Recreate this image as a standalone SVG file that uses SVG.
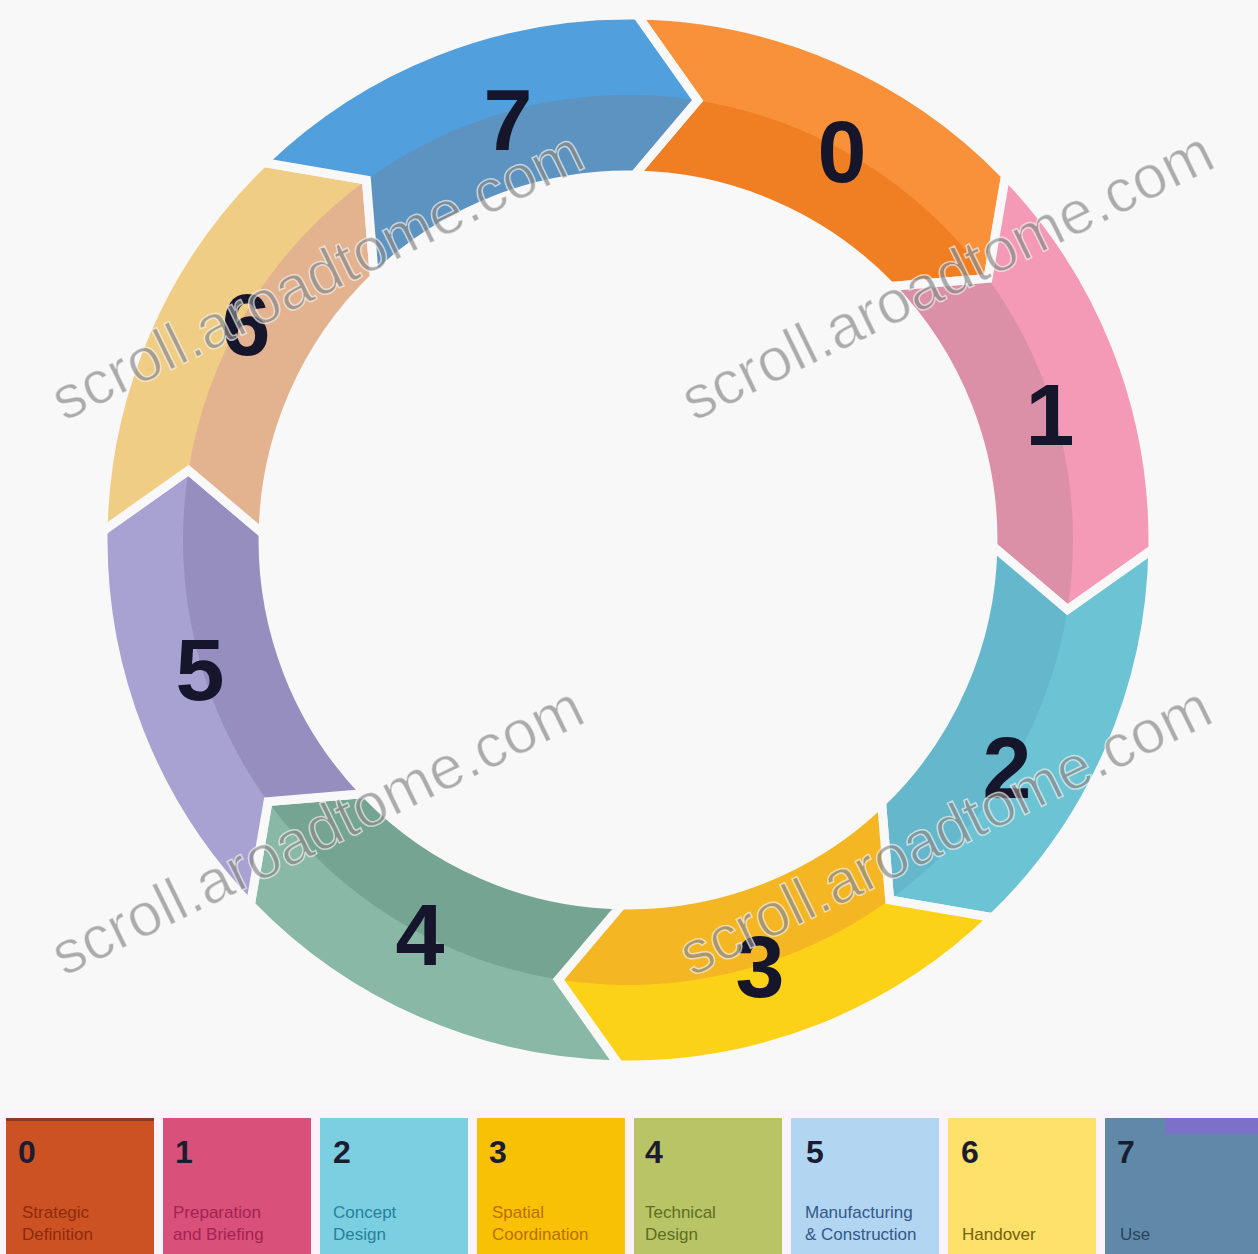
<svg xmlns="http://www.w3.org/2000/svg" width="1258" height="1254" viewBox="0 0 1258 1254">
<style>
.num{font-family:"Liberation Sans",Arial,sans-serif;font-weight:bold;font-size:88px;fill:#15152b;text-anchor:middle}
.edge{fill:none;stroke:#f8f8f8;stroke-width:9;stroke-linejoin:miter}
.wm{font-family:"Liberation Sans",Arial,sans-serif;font-size:61px;fill:#8a8a8a;fill-opacity:0.7;stroke:#ffffff;stroke-width:1.5;stroke-opacity:0.6}
.lnum{font-family:"Liberation Sans",Arial,sans-serif;font-weight:bold;font-size:32px;fill:#1c1c30}
.lab{font-family:"Liberation Sans",Arial,sans-serif;font-size:17px}
</style>
<rect width="1258" height="1254" fill="#f8f8f8"/>
<g id="ring">
<g id="stage-0">
<path fill="#ef7f22" d="M637.2,15.1 A525,525 0 0 1 1005.6,175.3 L988.0,278.4 L890.6,286.4 A365,365 0 0 0 634.4,175.1 L697.6,100.5 Z"/>
<path fill="#f9913a" d="M637.2,15.1 A525,525 0 0 1 1005.6,175.3 L988.0,278.4 A445,445 0 0 0 697.6,100.5 Z"/>
<path class="edge" d="M637.2,15.1 A525,525 0 0 1 1005.6,175.3 L988.0,278.4 L890.6,286.4 A365,365 0 0 0 634.4,175.1 L697.6,100.5 Z"/>
<text class="num" x="842" y="182">0</text>
</g>
<g id="stage-1">
<path fill="#dc90a8" d="M1005.6,175.3 A525,525 0 0 1 1152.9,549.2 L1067.5,609.6 L992.9,546.4 A365,365 0 0 0 890.6,286.4 L988.0,278.4 Z"/>
<path fill="#f59ab6" d="M1005.6,175.3 A525,525 0 0 1 1152.9,549.2 L1067.5,609.6 A445,445 0 0 0 988.0,278.4 Z"/>
<path class="edge" d="M1005.6,175.3 A525,525 0 0 1 1152.9,549.2 L1067.5,609.6 L992.9,546.4 A365,365 0 0 0 890.6,286.4 L988.0,278.4 Z"/>
<text class="num" x="1050" y="445">1</text>
</g>
<g id="stage-2">
<path fill="#65b8cb" d="M1152.9,549.2 A525,525 0 0 1 992.7,917.6 L889.6,900.0 L881.6,802.6 A365,365 0 0 0 992.9,546.4 L1067.5,609.6 Z"/>
<path fill="#6cc3d3" d="M1152.9,549.2 A525,525 0 0 1 992.7,917.6 L889.6,900.0 A445,445 0 0 0 1067.5,609.6 Z"/>
<path class="edge" d="M1152.9,549.2 A525,525 0 0 1 992.7,917.6 L889.6,900.0 L881.6,802.6 A365,365 0 0 0 992.9,546.4 L1067.5,609.6 Z"/>
<text class="num" x="1007" y="798">2</text>
</g>
<g id="stage-3">
<path fill="#f5b623" d="M992.7,917.6 A525,525 0 0 1 618.8,1064.9 L558.4,979.5 L621.6,904.9 A365,365 0 0 0 881.6,802.6 L889.6,900.0 Z"/>
<path fill="#fcd218" d="M992.7,917.6 A525,525 0 0 1 618.8,1064.9 L558.4,979.5 A445,445 0 0 0 889.6,900.0 Z"/>
<path class="edge" d="M992.7,917.6 A525,525 0 0 1 618.8,1064.9 L558.4,979.5 L621.6,904.9 A365,365 0 0 0 881.6,802.6 L889.6,900.0 Z"/>
<text class="num" x="760" y="997">3</text>
</g>
<g id="stage-4">
<path fill="#76a492" d="M618.8,1064.9 A525,525 0 0 1 250.4,904.7 L268.0,801.6 L365.4,793.6 A365,365 0 0 0 621.6,904.9 L558.4,979.5 Z"/>
<path fill="#89b8a6" d="M618.8,1064.9 A525,525 0 0 1 250.4,904.7 L268.0,801.6 A445,445 0 0 0 558.4,979.5 Z"/>
<path class="edge" d="M618.8,1064.9 A525,525 0 0 1 250.4,904.7 L268.0,801.6 L365.4,793.6 A365,365 0 0 0 621.6,904.9 L558.4,979.5 Z"/>
<text class="num" x="420" y="965">4</text>
</g>
<g id="stage-5">
<path fill="#958ebf" d="M250.4,904.7 A525,525 0 0 1 103.1,530.8 L188.5,470.4 L263.1,533.6 A365,365 0 0 0 365.4,793.6 L268.0,801.6 Z"/>
<path fill="#a8a2d2" d="M250.4,904.7 A525,525 0 0 1 103.1,530.8 L188.5,470.4 A445,445 0 0 0 268.0,801.6 Z"/>
<path class="edge" d="M250.4,904.7 A525,525 0 0 1 103.1,530.8 L188.5,470.4 L263.1,533.6 A365,365 0 0 0 365.4,793.6 L268.0,801.6 Z"/>
<text class="num" x="200" y="700">5</text>
</g>
<g id="stage-6">
<path fill="#e3b390" d="M103.1,530.8 A525,525 0 0 1 263.3,162.4 L366.4,180.0 L374.4,277.4 A365,365 0 0 0 263.1,533.6 L188.5,470.4 Z"/>
<path fill="#f0cd85" d="M103.1,530.8 A525,525 0 0 1 263.3,162.4 L366.4,180.0 A445,445 0 0 0 188.5,470.4 Z"/>
<path class="edge" d="M103.1,530.8 A525,525 0 0 1 263.3,162.4 L366.4,180.0 L374.4,277.4 A365,365 0 0 0 263.1,533.6 L188.5,470.4 Z"/>
<text class="num" x="246" y="355">6</text>
</g>
<g id="stage-7">
<path fill="#5c93c0" d="M263.3,162.4 A525,525 0 0 1 637.2,15.1 L697.6,100.5 L634.4,175.1 A365,365 0 0 0 374.4,277.4 L366.4,180.0 Z"/>
<path fill="#519fdd" d="M263.3,162.4 A525,525 0 0 1 637.2,15.1 L697.6,100.5 A445,445 0 0 0 366.4,180.0 Z"/>
<path class="edge" d="M263.3,162.4 A525,525 0 0 1 637.2,15.1 L697.6,100.5 L634.4,175.1 A365,365 0 0 0 374.4,277.4 L366.4,180.0 Z"/>
<text class="num" x="508" y="150">7</text>
</g>
</g>
<g id="connectors"></g>
<g id="watermarks">
<text class="wm" transform="translate(64,422) rotate(-26)">scroll.aroadtome.com</text>
<text class="wm" transform="translate(694,422) rotate(-26)">scroll.aroadtome.com</text>
<text class="wm" transform="translate(64,977) rotate(-26)">scroll.aroadtome.com</text>
<text class="wm" transform="translate(692,977) rotate(-26)">scroll.aroadtome.com</text>
</g>
<g id="legend">
<rect x="0" y="1110" width="1258" height="144" fill="#fbf3fb"/>
<g id="legend-0"><rect x="6" y="1118" width="148" height="136" fill="#cc5224"/><rect x="6" y="1118" width="148" height="3" fill="#8a3a20"/><text class="lnum" x="18" y="1163">0</text><text class="lab" x="22" y="1218" fill="#8e2a0c">Strategic</text><text class="lab" x="22" y="1240" fill="#8e2a0c">Definition</text></g>
<g id="legend-1"><rect x="163" y="1118" width="148" height="136" fill="#d9517a"/><text class="lnum" x="175" y="1163">1</text><text class="lab" x="173" y="1218" fill="#a42252">Preparation</text><text class="lab" x="173" y="1240" fill="#a42252">and Briefing</text></g>
<g id="legend-2"><rect x="320" y="1118" width="148" height="136" fill="#7ccfe0"/><text class="lnum" x="333" y="1163">2</text><text class="lab" x="333" y="1218" fill="#26809c">Concept</text><text class="lab" x="333" y="1240" fill="#26809c">Design</text></g>
<g id="legend-3"><rect x="477" y="1118" width="148" height="136" fill="#f8c103"/><text class="lnum" x="489" y="1163">3</text><text class="lab" x="492" y="1218" fill="#b86e00">Spatial</text><text class="lab" x="492" y="1240" fill="#b86e00">Coordination</text></g>
<g id="legend-4"><rect x="634" y="1118" width="148" height="136" fill="#b8c466"/><text class="lnum" x="645" y="1163">4</text><text class="lab" x="645" y="1218" fill="#5e6e22">Technical</text><text class="lab" x="645" y="1240" fill="#5e6e22">Design</text></g>
<g id="legend-5"><rect x="791" y="1118" width="148" height="136" fill="#b2d6f2"/><text class="lnum" x="806" y="1163">5</text><text class="lab" x="805" y="1218" fill="#345888">Manufacturing</text><text class="lab" x="805" y="1240" fill="#345888">&amp; Construction</text></g>
<g id="legend-6"><rect x="948" y="1118" width="148" height="136" fill="#fde16a"/><text class="lnum" x="961" y="1163">6</text><text class="lab" x="962" y="1240" fill="#72600e">Handover</text></g>
<g id="legend-7"><rect x="1105" y="1118" width="153" height="136" fill="#6088a8"/><rect x="1165" y="1118" width="93" height="16" fill="#7b72c8"/><text class="lnum" x="1117" y="1163">7</text><text class="lab" x="1120" y="1240" fill="#2a4462">Use</text></g>
</g>
</svg>
